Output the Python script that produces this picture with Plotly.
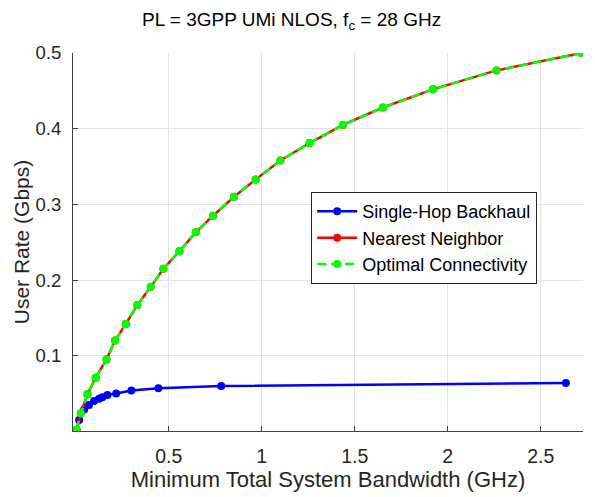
import plotly.graph_objects as go

# Data
bw_nn = [0.004, 0.027, 0.063, 0.107, 0.165, 0.211, 0.269, 0.331, 0.403, 0.471,
         0.557, 0.645, 0.738, 0.851, 0.967, 1.100, 1.257, 1.436, 1.651, 1.920,
         2.262, 2.720]
rate_nn = [0.002, 0.024, 0.049, 0.071, 0.095, 0.120, 0.142, 0.167, 0.191, 0.215,
           0.238, 0.263, 0.285, 0.310, 0.333, 0.358, 0.381, 0.405, 0.428, 0.452,
           0.477, 0.500]
bw_opt = bw_nn
rate_opt = rate_nn
bw_sh = [0.004, 0.018, 0.045, 0.071, 0.098, 0.125, 0.143, 0.170, 0.217, 0.299,
         0.444, 0.782, 2.635]
rate_sh = [0.002, 0.015, 0.029, 0.035, 0.040, 0.043, 0.045, 0.048, 0.050, 0.054,
           0.057, 0.060, 0.064]

x_ticks = [0.5, 1, 1.5, 2, 2.5]
y_ticks = [0.1, 0.2, 0.3, 0.4, 0.5]

FONT = "Liberation Sans, Arial, Helvetica, sans-serif"

fig = go.Figure()
fig.add_trace(go.Scatter(x=bw_sh, y=rate_sh, mode="lines+markers",
                         name="Single-Hop Backhaul",
                         line=dict(color="#0000FF", width=2.5),
                         marker=dict(color="#0000FF", size=8)))
fig.add_trace(go.Scatter(x=bw_nn, y=rate_nn, mode="lines+markers",
                         name="Nearest Neighbor",
                         line=dict(color="#FF0000", width=2.5),
                         marker=dict(color="#FF0000", size=8)))
fig.add_trace(go.Scatter(x=bw_opt, y=rate_opt, mode="lines+markers",
                         name="Optimal Connectivity",
                         line=dict(color="#00FF00", width=2.5, dash="9px,5px"),
                         marker=dict(color="#00FF00", size=8)))

fig.update_layout(
    width=595, height=497,
    margin=dict(l=73, r=12, t=53, b=66, autoexpand=False),
    paper_bgcolor="white", plot_bgcolor="white",
    font=dict(family=FONT, color="#262626", size=18),
    title=dict(text="PL = 3GPP UMi NLOS, f<sub>c</sub> = 28 GHz",
               x=0.49, xref="container", xanchor="center",
               y=0.962, yanchor="middle",
               font=dict(size=19, color="#000000")),
    showlegend=True,
    legend=dict(x=0.467, y=0.632, xanchor="left", yanchor="top",
                bgcolor="white", bordercolor="#262626", borderwidth=1,
                font=dict(size=18, color="#000000"),
                tracegroupgap=0, itemwidth=40),
)
fig.update_xaxes(range=[-0.015, 2.727], tickvals=x_ticks,
                 ticktext=["0.5", "1", "1.5", "2", "2.5"],
                 showgrid=True, gridcolor="#e3e3e3", gridwidth=1,
                 showline=True, linecolor="#404040", linewidth=1,
                 ticks="inside", ticklen=5, tickcolor="#404040",
                 zeroline=False, tickfont=dict(size=19.5),
                 ticklabelstandoff=8,
                 title=dict(text="Minimum Total System Bandwidth (GHz)",
                            font=dict(size=22), standoff=5))
fig.update_yaxes(range=[0.0005, 0.5], tickvals=y_ticks,
                 ticktext=["0.1", "0.2", "0.3", "0.4", "0.5"],
                 showgrid=True, gridcolor="#e3e3e3", gridwidth=1,
                 showline=True, linecolor="#404040", linewidth=1,
                 ticks="inside", ticklen=5, tickcolor="#404040",
                 zeroline=False, tickfont=dict(size=18.5),
                 ticklabelstandoff=7,
                 title=dict(text="User Rate (Gbps)", font=dict(size=21),
                            standoff=0))

fig.write_html("out.html")
